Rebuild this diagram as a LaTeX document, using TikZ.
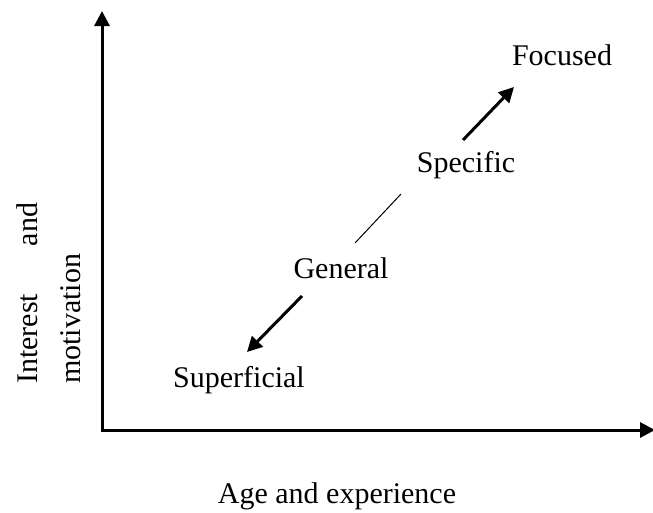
\documentclass[tikz,border=0pt]{standalone}
\usepackage{fontspec}
\setmainfont{Liberation Serif}
\usetikzlibrary{arrows.meta}
\begin{document}
\begin{tikzpicture}[x=1pt,y=-1pt,
  lbl/.style={inner sep=0pt, anchor=base, font=\fontsize{30}{34}\selectfont},
  axis/.style={line width=3pt, -{Triangle[length=15pt,width=15pt]}},
  thickarrow/.style={line width=3pt, -{Triangle[length=15pt,width=15pt]}},
  thinline/.style={line width=1pt}]
\useasboundingbox (0,0) rectangle (653,512);
% axes
\coordinate (origin) at (102,430);
\coordinate (ytip) at (102,11);
\coordinate (xtip) at (655,430);
\draw[axis] ([yshift=-1.5pt]origin) -- (ytip);
\draw[axis] (origin) -- (xtip);
% labels
\node[lbl] (focused) at (562,65) {Focused};
\node[lbl] (specific) at (466,172) {Specific};
\node[lbl] (general) at (341,278) {General};
\node[lbl] (superficial) at (239,387) {Superficial};
\node[lbl] (xlabel) at (337,503) {Age and experience};
\node[lbl, rotate=90, anchor=base west] (ylabel1) at (37,384) {\hbox to 181pt{Interest\hfill and}};
\node[lbl, rotate=90, anchor=base west] (ylabel2) at (80,384) {motivation};
% connectors
\coordinate (a1s) at (463,140);
\coordinate (a1e) at (514,87);
\coordinate (ls) at (401,194);
\coordinate (le) at (355,243);
\coordinate (a2s) at (302,296);
\coordinate (a2e) at (247,352);
\draw[thickarrow] (a1s) -- (a1e);
\draw[thinline] (ls) -- (le);
\draw[thickarrow] (a2s) -- (a2e);
\end{tikzpicture}
\end{document}
